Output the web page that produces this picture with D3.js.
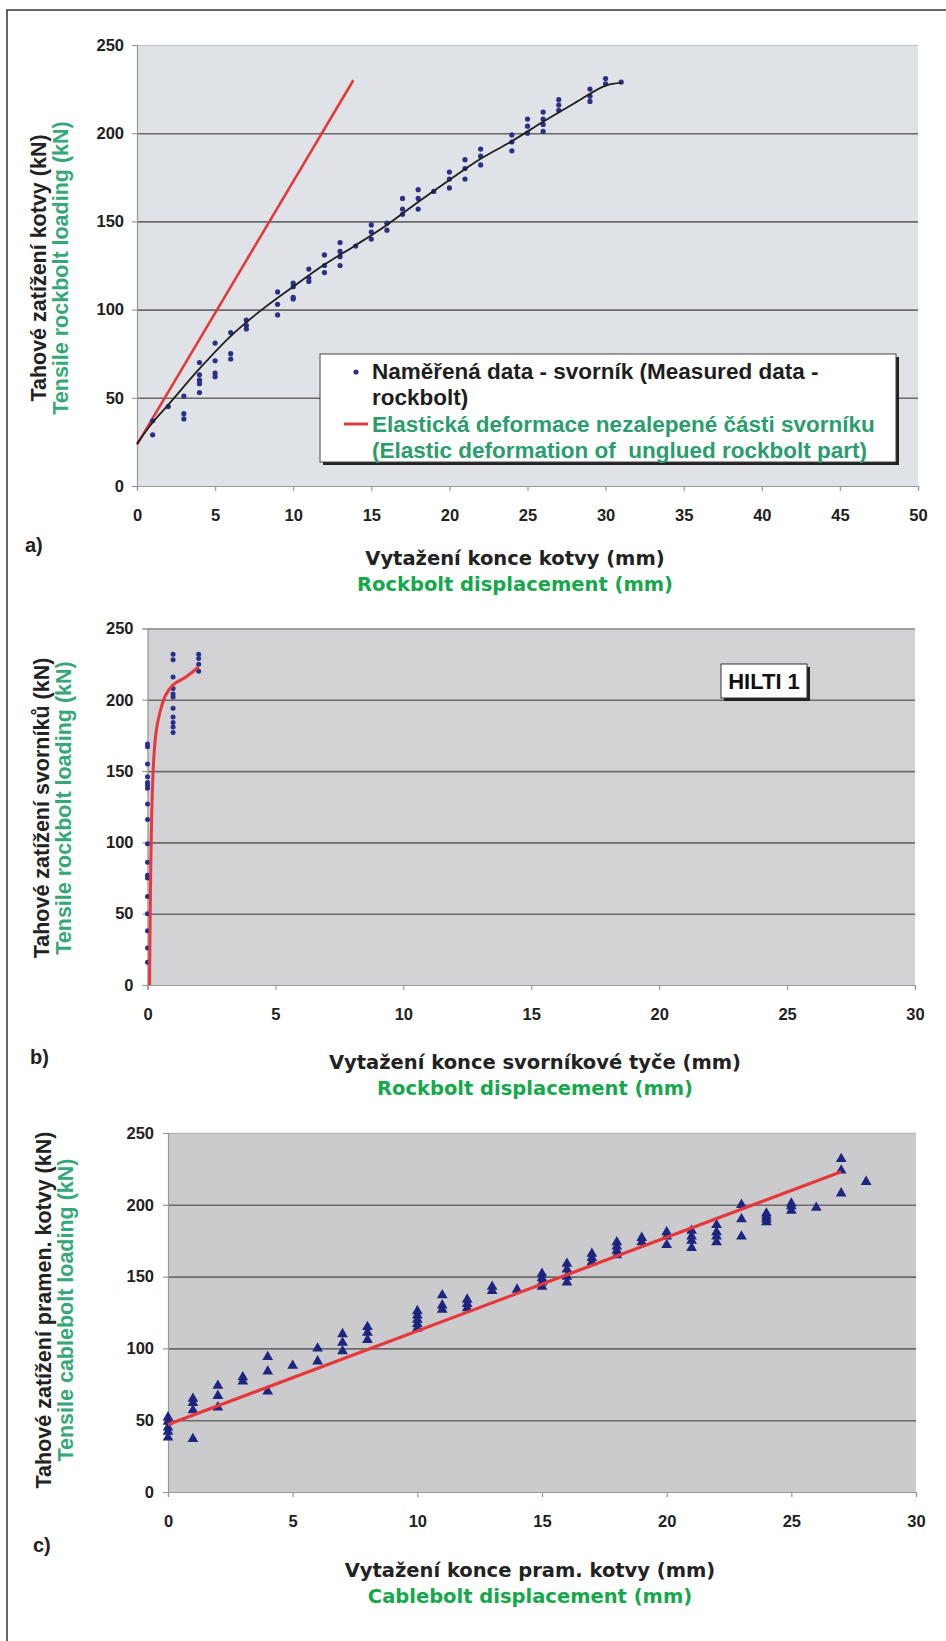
<!DOCTYPE html>
<html>
<head>
<meta charset="utf-8">
<script src="https://cdn.jsdelivr.net/npm/d3@7/dist/d3.min.js"></script>
<style>
  body { margin: 0; background: #fff; }
  .tick text { font-family: "Liberation Sans", Arial, sans-serif; font-weight: bold; font-size: 16.5px; fill: #222; }
  .axis path, .axis line { stroke: #999; stroke-width: 1.2; }
  .grid line { stroke: #6a6a6a; stroke-width: 1.6; }
  .grid path { stroke: none; }
  .ytitle { font-family: "Liberation Sans", Arial, sans-serif; font-weight: bold; font-size: 21.5px; }
  .xtitle { font-family: "DejaVu Sans", Verdana, sans-serif; font-weight: bold; font-size: 19.5px; }
  .panel { font-family: "Liberation Sans", Arial, sans-serif; font-weight: bold; font-size: 20px; fill: #222; }
  .legend { font-family: "Liberation Sans", Arial, sans-serif; font-weight: bold; font-size: 22.5px; }
</style>
</head>
<body>
<div id="figure"></div>
<script>
var svgWidth = 946;
var svgHeight = 1641;

// tick labels
var loadTicks = [0, 50, 100, 150, 200, 250];
var aDisplTicks = [0, 5, 10, 15, 20, 25, 30, 35, 40, 45, 50];
var bcDisplTicks = [0, 5, 10, 15, 20, 25, 30];

// a) measured data - rockbolt (displacement mm -> loads kN)
var aDispl = [1, 2, 3, 4, 5, 6, 7, 9, 10, 11, 12, 13, 14, 15, 16, 17, 18, 19, 20, 21, 22, 24, 25, 26, 27, 29, 30, 31];
var aLoad = [
  [37, 29], [45], [51, 41, 38], [70, 63, 60, 58, 53], [81, 71, 64, 62], [87, 75, 72], [94, 91, 89],
  [110, 103, 97], [115, 113, 107, 106], [123, 118, 116], [131, 125, 121], [138, 133, 130, 125], [136],
  [148, 144, 140], [149, 145], [163, 157, 154], [168, 163, 157], [167], [178, 174, 169], [185, 180, 174],
  [191, 187, 182], [199, 195, 190], [208, 204, 200], [212, 208, 205, 201], [219, 216, 213],
  [225, 221, 218], [231, 228], [229]
];
// a) fitted curve of measured data
var aFitDispl = [0, 1, 2, 4, 6, 8, 10, 12, 14, 16, 18, 20, 22, 24, 26, 28, 30, 31];
var aFitLoad = [24, 36, 46, 66.5, 85, 100, 113, 125.5, 136.5, 148, 161, 173.5, 185.5, 195.5, 206.5, 217, 227, 228.5];
// a) elastic deformation of unglued part
var aElasticDispl = [0, 13.85];
var aElasticLoad = [23.5, 230];

// b) HILTI 1
var bDispl = [0, 1, 2];
var bLoad = [
  [169, 167, 155, 146, 142, 140, 138, 127, 116, 99, 86, 77, 75, 62, 50, 38, 26, 16],
  [232, 228, 216, 208, 204, 202, 194, 188, 184, 181, 177],
  [232, 229, 225, 220]
];
var bFitDispl = [0.08, 0.1, 0.13, 0.18, 0.25, 0.34, 0.47, 0.7, 1.0, 1.5, 2.0];
var bFitLoad = [0, 40, 85, 130, 160, 178, 190, 203, 210.5, 216, 223];

// c) cablebolt
var cDispl = [0, 1, 2, 3, 4, 5, 6, 7, 8, 10, 11, 12, 13, 14, 15, 16, 17, 18, 19, 20, 21, 22, 23, 24, 25, 26, 27, 28];
var cLoad = [
  [52, 49, 45, 42, 38], [65, 62, 57, 37], [74, 67, 59], [80, 77], [94, 84, 70], [88], [100, 91],
  [110, 104, 98], [115, 111, 106], [126, 123, 120, 117, 114], [137, 130, 127], [134, 131, 128],
  [143, 140], [141], [152, 149, 146, 143], [159, 155, 150, 146], [166, 163, 160], [174, 171, 168, 165],
  [177, 174], [181, 178, 172], [182, 178, 175, 170], [186, 181, 178, 174], [200, 190, 178],
  [194, 192, 190, 188], [201, 199, 196], [198], [232, 224, 208], [216]
];
var cFitDispl = [0, 27];
var cFitLoad = [47, 223];

function flatten(xs, ys) {
  var out = [];
  xs.forEach(function(x, i) {
    ys[i].forEach(function(y) { out.push({x: x, y: y}); });
  });
  return out;
}
function pairs(xs, ys) {
  return xs.map(function(x, i) { return {x: x, y: ys[i]}; });
}

var svg = d3.select("#figure")
  .append("svg")
  .attr("width", svgWidth)
  .attr("height", svgHeight);

svg.append("rect").attr("width", svgWidth).attr("height", svgHeight).attr("fill", "#fff");

// frame
svg.append("path")
  .attr("d", "M7,1660 V10 H960")
  .attr("fill", "none")
  .attr("stroke", "#333")
  .attr("stroke-width", 1.5);

function drawPanel(p) {
  var g = svg.append("g");
  var x = d3.scaleLinear().domain([0, p.xMax]).range([p.left, p.right]);
  var y = d3.scaleLinear().domain([0, 250]).range([p.bottom, p.top]);

  g.append("rect")
    .attr("x", p.left).attr("y", p.top)
    .attr("width", p.right - p.left).attr("height", p.bottom - p.top)
    .attr("fill", p.bg);

  g.append("g")
    .attr("class", "grid")
    .attr("transform", `translate(${p.left},0)`)
    .call(d3.axisLeft(y).tickValues([50, 100, 150, 200, 250]).tickSize(-(p.right - p.left)).tickFormat(""))
    .selectAll("line")
    .filter(function(d) { return d === 250; })
    .style("stroke", p.topLine);

  g.append("g")
    .attr("class", "axis")
    .attr("transform", `translate(${p.left},0)`)
    .call(d3.axisLeft(y).tickValues(loadTicks).tickSize(5).tickPadding(p.yPad));

  g.append("g")
    .attr("class", "axis")
    .attr("transform", `translate(0,${p.bottom})`)
    .call(d3.axisBottom(x).tickValues(p.xTicks).tickSize(5).tickPadding(18));

  // y titles
  g.append("text")
    .attr("class", "ytitle")
    .attr("transform", `translate(${p.yTitleX},${p.yTitleY}) rotate(-90)`)
    .attr("text-anchor", "middle")
    .attr("dy", "0.35em")
    .attr("fill", "#222")
    .text(p.yTitle);
  g.append("text")
    .attr("class", "ytitle")
    .attr("transform", `translate(${p.yTitleX + 22},${p.yTitleY}) rotate(-90)`)
    .attr("text-anchor", "middle")
    .attr("dy", "0.35em")
    .attr("fill", "#35a878")
    .text(p.yTitle2);

  // x titles
  g.append("text")
    .attr("class", "xtitle")
    .attr("x", p.xTitleX).attr("y", p.xTitleY)
    .attr("text-anchor", "middle")
    .attr("dy", "0.35em")
    .attr("fill", "#222")
    .text(p.xTitle);
  g.append("text")
    .attr("class", "xtitle")
    .attr("x", p.xTitleX).attr("y", p.xTitleY + 26)
    .attr("text-anchor", "middle")
    .attr("dy", "0.35em")
    .attr("fill", "#14a84b")
    .text(p.xTitle2);

  g.append("text")
    .attr("class", "panel")
    .attr("x", p.labelX).attr("y", p.labelY)
    .attr("dy", "0.35em")
    .text(p.label);

  return {g: g, x: x, y: y};
}

// ---------- a) ----------
var pa = drawPanel({
  left: 137, right: 918, top: 45, bottom: 486, xMax: 50, xTicks: aDisplTicks,
  bg: "#dfe2e6", topLine: "#c8cacd", yPad: 8,
  yTitle: "Tahové zatížení kotvy (kN)", yTitle2: "Tensile rockbolt loading (kN)",
  yTitleX: 38, yTitleY: 268,
  xTitle: "Vytažení konce kotvy (mm)", xTitle2: "Rockbolt displacement (mm)",
  xTitleX: 515, xTitleY: 558,
  label: "a)", labelX: 25, labelY: 545
});

var line = d3.line().x(d => pa.x(d.x)).y(d => pa.y(d.y)).curve(d3.curveCatmullRom);

pa.g.append("path")
  .datum(pairs(aElasticDispl, aElasticLoad))
  .attr("d", d3.line().x(d => pa.x(d.x)).y(d => pa.y(d.y)))
  .attr("fill", "none")
  .attr("stroke", "#e23a3c")
  .attr("stroke-width", 2.6);

pa.g.selectAll("circle.pt")
  .data(flatten(aDispl, aLoad))
  .enter()
  .append("circle")
  .attr("class", "pt")
  .attr("cx", d => pa.x(d.x))
  .attr("cy", d => pa.y(d.y))
  .attr("r", 2.6)
  .attr("fill", "#2b2f86");

pa.g.append("path")
  .datum(pairs(aFitDispl, aFitLoad))
  .attr("d", line)
  .attr("fill", "none")
  .attr("stroke", "#1e1e1e")
  .attr("stroke-width", 1.8);

// legend
var legend = pa.g.append("g");
legend.append("rect").attr("x", 323).attr("y", 357).attr("width", 576).attr("height", 108).attr("fill", "#222");
legend.append("rect").attr("x", 320).attr("y", 354).attr("width", 576).attr("height", 108)
  .attr("fill", "#fff").attr("stroke", "#444").attr("stroke-width", 1);
legend.append("circle").attr("cx", 356).attr("cy", 372).attr("r", 2.6).attr("fill", "#2b2f86");
legend.append("line").attr("x1", 344).attr("x2", 368).attr("y1", 424).attr("y2", 424)
  .attr("stroke", "#e23a3c").attr("stroke-width", 3);
var legendLines = [
  ["Naměřená data - svorník (Measured data -", "#1e1e1e"],
  ["rockbolt)", "#1e1e1e"],
  ["Elastická deformace nezalepené části svorníku", "#2a9d6c"],
  ["(Elastic deformation of  unglued rockbolt part)", "#2a9d6c"]
];
legend.selectAll("text")
  .data(legendLines)
  .enter()
  .append("text")
  .attr("class", "legend")
  .attr("x", 372)
  .attr("y", (d, i) => 371 + i * 26.5)
  .attr("dy", "0.35em")
  .attr("fill", d => d[1])
  .style("white-space", "pre")
  .text(d => d[0]);

// ---------- b) ----------
var pb = drawPanel({
  left: 147.5, right: 915, top: 628.5, bottom: 985, xMax: 30, xTicks: bcDisplTicks,
  bg: "#d2d2d4", topLine: "#8a8a8a", yPad: 9,
  yTitle: "Tahové zatížení svorníků  (kN)", yTitle2: "Tensile rockbolt loading (kN)",
  yTitleX: 41, yTitleY: 808,
  xTitle: "Vytažení konce svorníkové tyče (mm)", xTitle2: "Rockbolt displacement (mm)",
  xTitleX: 535, xTitleY: 1062,
  label: "b)", labelX: 30, labelY: 1057
});

pb.g.selectAll("circle.pt")
  .data(flatten(bDispl, bLoad))
  .enter()
  .append("circle")
  .attr("class", "pt")
  .attr("cx", d => pb.x(d.x))
  .attr("cy", d => pb.y(d.y))
  .attr("r", 2.5)
  .attr("fill", "#25308c");

pb.g.append("path")
  .datum(pairs(bFitDispl, bFitLoad))
  .attr("d", d3.line().x(d => pb.x(d.x)).y(d => pb.y(d.y)).curve(d3.curveCatmullRom))
  .attr("fill", "none")
  .attr("stroke", "#e8373d")
  .attr("stroke-width", 3);

var hilti = pb.g.append("g");
hilti.append("rect").attr("x", 724).attr("y", 667).attr("width", 86).attr("height", 34).attr("fill", "#222");
hilti.append("rect").attr("x", 721).attr("y", 664).attr("width", 86).attr("height", 34)
  .attr("fill", "#fff").attr("stroke", "#333").attr("stroke-width", 1);
hilti.append("text")
  .attr("x", 764).attr("y", 681)
  .attr("dy", "0.35em")
  .attr("text-anchor", "middle")
  .style("font-family", "Liberation Sans, Arial, sans-serif")
  .style("font-weight", "bold")
  .style("font-size", "22px")
  .attr("fill", "#111")
  .text("HILTI 1");

// ---------- c) ----------
var pc = drawPanel({
  left: 168, right: 916, top: 1133, bottom: 1492, xMax: 30, xTicks: bcDisplTicks,
  bg: "#cbcbcd", topLine: "#b8b8ba", yPad: 9,
  yTitle: "Tahové zatížení pramen. kotvy (kN)", yTitle2: "Tensile cablebolt loading (kN)",
  yTitleX: 43, yTitleY: 1310,
  xTitle: "Vytažení konce pram. kotvy (mm)", xTitle2: "Cablebolt displacement (mm)",
  xTitleX: 530, xTitleY: 1570,
  label: "c)", labelX: 33, labelY: 1545
});

pc.g.selectAll("path.pt")
  .data(flatten(cDispl, cLoad))
  .enter()
  .append("path")
  .attr("class", "pt")
  .attr("d", d3.symbol(d3.symbolTriangle, 50))
  .attr("transform", d => `translate(${pc.x(d.x)},${pc.y(d.y)})`)
  .attr("fill", "#1d2580");

pc.g.append("path")
  .datum(pairs(cFitDispl, cFitLoad))
  .attr("d", d3.line().x(d => pc.x(d.x)).y(d => pc.y(d.y)))
  .attr("fill", "none")
  .attr("stroke", "#e6383c")
  .attr("stroke-width", 3.2);
</script>
</body>
</html>
